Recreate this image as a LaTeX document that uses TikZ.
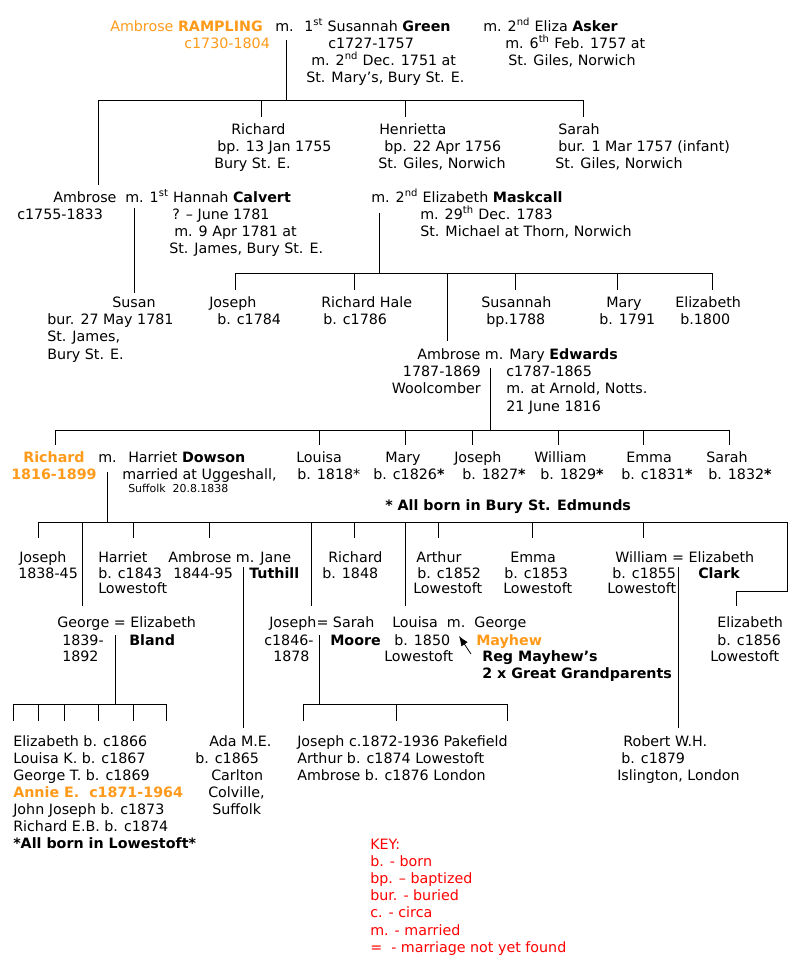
\documentclass[tikz,border=0pt]{standalone}
\usepackage{fontspec}
\setmainfont{DejaVu Sans}
\usetikzlibrary{arrows.meta}
\definecolor{famorange}{HTML}{FF9A1A}
\definecolor{keyred}{HTML}{FF0000}
\tikzset{
  ent/.style={anchor=base west, inner sep=0pt, font=\fontsize{10.7}{12.75}\selectfont},
  entbold/.style={ent, font=\fontsize{10.7}{12.75}\selectfont\bfseries},
  entsmall/.style={ent, font=\fontsize{8.2}{10}\selectfont},
  entgold/.style={entbold, text=famorange},
  keytxt/.style={ent, text=keyred},
  tree/.style={line width=0.75pt, black},
  regarrow/.style={-{Latex[length=2.6mm,width=2mm]}, line width=0.6pt},
}

\begin{document}
\begin{tikzpicture}[x=0.75pt, y=-0.75pt]
\useasboundingbox (0,0) rectangle (800,957);

% Ambrose Rampling and wives
\node[ent, text=famorange] (ramp) at (110,31) {Ambrose \textbf{RAMPLING}};
\node[ent] (rampm) at (275,31) {m.};
\node[ent] (green) at (304,31) {1\textsuperscript{st} Susannah \textbf{Green}};
\node[ent] (asker) at (483,31) {m. 2\textsuperscript{nd} Eliza \textbf{Asker}};
\node[ent, text=famorange] (rampd) at (184,48) {c1730-1804};
\node[ent] (greend) at (328,48) {c1727-1757};
\node[ent] (greenm) at (311,65) {m. 2\textsuperscript{nd} Dec. 1751 at};
\node[ent] (greenp) at (306,82) {St. Mary’s, Bury St. E.};
\node[ent] (askerm) at (505,48) {m. 6\textsuperscript{th} Feb. 1757 at};
\node[ent] (askerp) at (508,65) {St. Giles, Norwich};

% their children
\node[ent] (rich1) at (231,134) {Richard};
\node[ent] (rich1b) at (217,151) {bp. 13 Jan 1755};
\node[ent] (rich1p) at (214,168) {Bury St. E.};
\node[ent] (henr) at (379,134) {Henrietta};
\node[ent] (henrb) at (384,151) {bp. 22 Apr 1756};
\node[ent] (henrp) at (378,168) {St. Giles, Norwich};
\node[ent] (sar1) at (558,134) {Sarah};
\node[ent] (sar1b) at (558,151) {bur. 1 Mar 1757 (infant)};
\node[ent] (sar1p) at (555,168) {St. Giles, Norwich};

\node[ent] (amb2) at (53,202) {Ambrose};
\node[ent] (calv) at (125,202) {m. 1\textsuperscript{st} Hannah \textbf{Calvert}};
\node[ent] (amb2d) at (17,219) {c1755-1833};
\node[ent] (calvd) at (172,219) {? – June 1781};
\node[ent] (calvm) at (174,236) {m. 9 Apr 1781 at};
\node[ent] (calvp) at (169,253) {St. James, Bury St. E.};
\node[ent] (mask) at (371,202) {m. 2\textsuperscript{nd} Elizabeth \textbf{Maskcall}};
\node[ent] (maskm) at (420,219) {m. 29\textsuperscript{th} Dec. 1783};
\node[ent] (maskp) at (420,236) {St. Michael at Thorn, Norwich};

% children of Ambrose
\node[ent] (susan) at (112,307) {Susan};
\node[ent] (susanb) at (47,324) {bur. 27 May 1781};
\node[ent] (susanp) at (47,341) {St. James,};
\node[ent] (susanq) at (47,359) {Bury St. E.};
\node[ent] (jos1) at (209,307) {Joseph};
\node[ent] (jos1b) at (217,324) {b. c1784};
\node[ent] (rhale) at (321,307) {Richard Hale};
\node[ent] (rhaleb) at (323,324) {b. c1786};
\node[ent] (susah) at (481,307) {Susannah};
\node[ent] (susahb) at (486,324) {bp.1788};
\node[ent] (mary1) at (606,307) {Mary};
\node[ent] (mary1b) at (599,324) {b. 1791};
\node[ent] (eliz1) at (675,307) {Elizabeth};
\node[ent] (eliz1b) at (680,324) {b.1800};

\node[ent] (amb3) at (417,359) {Ambrose m. Mary \textbf{Edwards}};
\node[ent, anchor=base east] (amb3d) at (481,376) {1787-1869};
\node[ent, anchor=base east] (amb3o) at (481,393) {Woolcomber};
\node[ent] (edwd) at (506,376) {c1787-1865};
\node[ent] (edwm) at (506,393) {m. at Arnold, Notts.};
\node[ent] (edwp) at (506,411) {21 June 1816};

% children of Ambrose and Mary
\node[entgold] (rich3) at (23,462) {Richard};
\node[entgold] (rich3d) at (11,479) {1816-1899};
\node[ent] (rich3m) at (98,462) {m.};
\node[ent] (dows) at (128,462) {Harriet \textbf{Dowson}};
\node[ent] (dowsm) at (122,479) {married at Uggeshall,};
\node[entsmall] (dowsp) at (128,492) {Suffolk\ \ 20.8.1838};
\node[ent] (lou1) at (296,462) {Louisa};
\node[ent] (lou1b) at (297,479) {b. 1818*};
\node[ent] (mary2) at (385,462) {Mary};
\node[ent] (mary2b) at (373,479) {b. c1826\textbf{*}};
\node[ent] (jos2) at (454,462) {Joseph};
\node[ent] (jos2b) at (462,479) {b. 1827\textbf{*}};
\node[ent] (will2) at (534,462) {William};
\node[ent] (will2b) at (540,479) {b. 1829\textbf{*}};
\node[ent] (emma2) at (626,462) {Emma};
\node[ent] (emma2b) at (621,479) {b. c1831\textbf{*}};
\node[ent] (sar2) at (706,462) {Sarah};
\node[ent] (sar2b) at (708,479) {b. 1832\textbf{*}};
\node[entbold] (bury) at (385,510) {* All born in Bury St. Edmunds};

% children of Richard and Harriet
\node[ent] (jos3) at (19,562) {Joseph};
\node[ent] (jos3d) at (18,578) {1838-45};
\node[ent] (harr) at (98,562) {Harriet};
\node[ent] (harrb) at (98,578) {b. c1843};
\node[ent] (harrp) at (98,593) {Lowestoft};
\node[ent] (amb4) at (168,562) {Ambrose m. Jane};
\node[ent] (amb4d) at (173,578) {1844-95};
\node[entbold] (tuth) at (249,578) {Tuthill};
\node[ent] (rich4) at (328,562) {Richard};
\node[ent] (rich4b) at (322,578) {b. 1848};
\node[ent] (arth) at (416,562) {Arthur};
\node[ent] (arthb) at (417,578) {b. c1852};
\node[ent] (arthp) at (413,593) {Lowestoft};
\node[ent] (emma3) at (510,562) {Emma};
\node[ent] (emma3b) at (504,578) {b. c1853};
\node[ent] (emma3p) at (503,593) {Lowestoft};
\node[ent] (will3) at (615,562) {William = Elizabeth};
\node[ent] (will3b) at (612,578) {b. c1855};
\node[entbold] (clark) at (698,578) {Clark};
\node[ent] (will3p) at (607,593) {Lowestoft};

\node[ent] (geo) at (57,627) {George = Elizabeth};
\node[ent] (geod) at (62,645) {1839-};
\node[entbold] (bland) at (129,645) {Bland};
\node[ent] (geoe) at (62,661) {1892};
\node[ent] (jos4) at (269,627) {Joseph= Sarah};
\node[ent] (jos4d) at (264,645) {c1846-};
\node[entbold] (moore) at (330,645) {Moore};
\node[ent] (jos4e) at (273,661) {1878};
\node[ent] (lou2) at (392,627) {Louisa\ \ m.\ \ George};
\node[ent] (lou2b) at (394,645) {b. 1850};
\node[entgold] (mayh) at (476,645) {Mayhew};
\node[ent] (lou2p) at (384,661) {Lowestoft};
\node[entbold] (reg) at (482,661) {Reg Mayhew’s};
\node[entbold] (reg2) at (482,678) {2 x Great Grandparents};
\node[ent] (eliz3) at (717,627) {Elizabeth};
\node[ent] (eliz3b) at (717,645) {b. c1856};
\node[ent] (eliz3p) at (710,661) {Lowestoft};

% grandchildren
\node[ent] (g1) at (13,746) {Elizabeth b. c1866};
\node[ent] (g2) at (13,763) {Louisa K. b. c1867};
\node[ent] (g3) at (13,780) {George T. b. c1869};
\node[entgold] (g4) at (13,797) {Annie E.\ \ c1871-1964};
\node[ent] (g5) at (13,814) {John Joseph b. c1873};
\node[ent] (g6) at (13,831) {Richard E.B. b. c1874};
\node[entbold] (g7) at (13,848) {*All born in Lowestoft*};
\node[ent] (ada) at (209,746) {Ada M.E.};
\node[ent] (adab) at (195,763) {b. c1865};
\node[ent] (adap) at (211,780) {Carlton};
\node[ent] (adaq) at (208,797) {Colville,};
\node[ent] (adar) at (212,814) {Suffolk};
\node[ent] (m1) at (297,746) {Joseph c.1872-1936 Pakefield};
\node[ent] (m2) at (297,763) {Arthur b. c1874 Lowestoft};
\node[ent] (m3) at (297,780) {Ambrose b. c1876 London};
\node[ent] (rob) at (623,746) {Robert W.H.};
\node[ent] (robb) at (621,763) {b. c1879};
\node[ent] (robp) at (617,780) {Islington, London};

% key
\node[keytxt] (key0) at (370,849) {KEY:};
\node[keytxt] (key1) at (370,866) {b. - born};
\node[keytxt] (key2) at (370,883) {bp. – baptized};
\node[keytxt] (key3) at (370,900) {bur. - buried};
\node[keytxt] (key4) at (370,917) {c. - circa};
\node[keytxt] (key5) at (370,935) {m. - married};
\node[keytxt] (key6) at (370,952) {=\ \ - marriage not yet found};

% tree lines
\coordinate (f1top) at (286,40);
\coordinate (f1bar) at (286,100);
\coordinate (c-amb2) at (98,185);
\foreach \n/\x in {rich1/261,henr/405,sar1/583}
  \coordinate (c-\n) at (\x,117);
\draw[tree] (f1top) -- (f1bar);
\draw[tree] (c-amb2 |- f1bar) -- (c-sar1 |- f1bar);
\foreach \n in {amb2,rich1,henr,sar1}
  \draw[tree] (c-\n |- f1bar) -- (c-\n);

\coordinate (calvtop) at (134,208);
\coordinate (c-susan) at (134,293);
\draw[tree] (calvtop) -- (c-susan);

\coordinate (f2top) at (379,213);
\coordinate (f2bar) at (379,273);
\foreach \n/\x in {jos1/235,rhale/354,susah/515,mary1/617,eliz1/712}
  \coordinate (c-\n) at (\x,290);
\coordinate (c-amb3) at (447,341);
\draw[tree] (f2top) -- (f2bar);
\draw[tree] (c-jos1 |- f2bar) -- (c-eliz1 |- f2bar);
\foreach \n in {jos1,rhale,amb3,susah,mary1,eliz1}
  \draw[tree] (c-\n |- f2bar) -- (c-\n);

\coordinate (f3top) at (490,368);
\coordinate (f3bar) at (490,430);
\foreach \n/\x in {rich3/55,lou1/319,mary2/405,jos2/472,will2/558,emma2/643,sar2/729}
  \coordinate (c-\n) at (\x,445);
\draw[tree] (f3top) -- (f3bar);
\draw[tree] (c-rich3 |- f3bar) -- (c-sar2 |- f3bar);
\foreach \n in {rich3,lou1,mary2,jos2,will2,emma2,sar2}
  \draw[tree] (c-\n |- f3bar) -- (c-\n);

\coordinate (f4top) at (107,472);
\coordinate (f4bar) at (107,522);
\foreach \n/\x in {jos3/38,harr/133,amb4/209,rich4/354,arth/438,emma3/532,will3/643}
  \coordinate (c-\n) at (\x,538);
\foreach \n/\x in {geo/82,jos4/311,lou2/405}
  \coordinate (c-\n) at (\x,606);
\coordinate (eliz3turn) at (787,591);
\coordinate (c-eliz3) at (736,606);
\draw[tree] (f4top) -- (f4bar);
\draw[tree] (c-jos3 |- f4bar) -- (eliz3turn |- f4bar);
\foreach \n in {jos3,geo,harr,amb4,jos4,rich4,lou2,arth,emma3,will3}
  \draw[tree] (c-\n |- f4bar) -- (c-\n);
\draw[tree] (eliz3turn |- f4bar) -- (eliz3turn) -| (c-eliz3);

\coordinate (tuthtop) at (243,567);
\coordinate (c-ada) at (243,728);
\draw[tree] (tuthtop) -- (c-ada);
\coordinate (clarktop) at (678,567);
\coordinate (c-rob) at (678,728);
\draw[tree] (clarktop) -- (c-rob);

\coordinate (f5top) at (115,635);
\coordinate (f5bar) at (115,704);
\foreach \n/\x in {1/13,2/38,3/64,4/98,5/133,6/166}
  \coordinate (c-g\n) at (\x,721);
\draw[tree] (f5top) -- (f5bar);
\draw[tree] (c-g1 |- f5bar) -- (c-g6 |- f5bar);
\foreach \n in {1,...,6}
  \draw[tree] (c-g\n |- f5bar) -- (c-g\n);

\coordinate (f6top) at (319,635);
\coordinate (f6bar) at (319,704);
\foreach \n/\x in {1/303,2/396,3/507}
  \coordinate (c-m\n) at (\x,721);
\draw[tree] (f6top) -- (f6bar);
\draw[tree] (c-m1 |- f6bar) -- (c-m3 |- f6bar);
\foreach \n in {1,2,3}
  \draw[tree] (c-m\n |- f6bar) -- (c-m\n);

\coordinate (regtail) at (471,654);
\coordinate (regtip) at (459,636);
\draw[regarrow] (regtail) -- (regtip);
\end{tikzpicture}
\end{document}
